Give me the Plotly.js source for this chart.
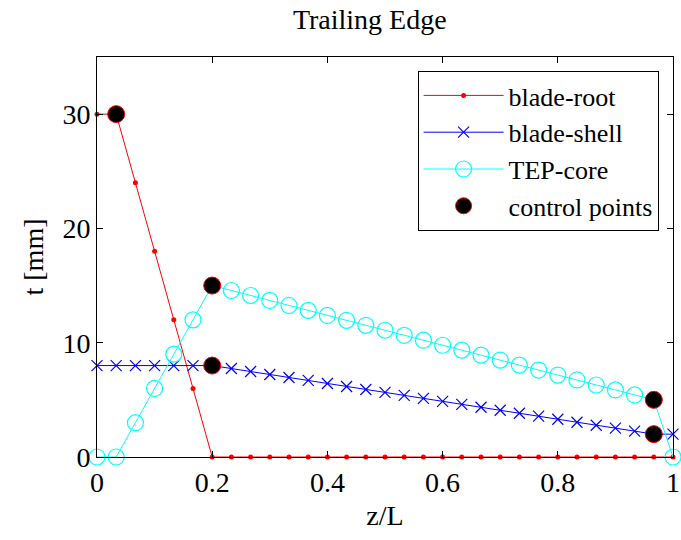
<!DOCTYPE html>
<html>
<head>
<meta charset="utf-8">
<script src="https://cdn.plot.ly/plotly-3.0.1.min.js"></script>
<style>html,body{margin:0;padding:0;background:#fff;}#chart{width:681px;height:540px;}</style>
</head>
<body>
<div id="chart"></div>
<script>
// z/L stations (31 points, spacing 1/30)
const zL = [0, 0.0333, 0.0667, 0.1, 0.1333, 0.1667, 0.2, 0.2333, 0.2667, 0.3, 0.3333, 0.3667, 0.4, 0.4333, 0.4667, 0.5,
            0.5333, 0.5667, 0.6, 0.6333, 0.6667, 0.7, 0.7333, 0.7667, 0.8, 0.8333, 0.8667, 0.9, 0.9333, 0.9667, 1];
const bladeRoot = [30, 30, 24, 18, 12, 6, 0, 0, 0, 0, 0, 0, 0, 0, 0, 0,
                   0, 0, 0, 0, 0, 0, 0, 0, 0, 0, 0, 0, 0, 0, 0];
const bladeShell = [8, 8, 8, 8, 8, 8, 8, 7.74, 7.48, 7.22, 6.96, 6.70, 6.43, 6.17, 5.91, 5.65,
                    5.39, 5.13, 4.87, 4.61, 4.35, 4.09, 3.83, 3.57, 3.30, 3.04, 2.78, 2.52, 2.26, 2.0, 2.0];
const tepCore = [0, 0, 3, 6, 9, 12, 15, 14.57, 14.13, 13.70, 13.26, 12.83, 12.39, 11.96, 11.52, 11.09,
                 10.65, 10.22, 9.78, 9.35, 8.91, 8.48, 8.04, 7.61, 7.17, 6.74, 6.30, 5.87, 5.43, 5.00, 0];
const ctrlX = [0.0333, 0.2, 0.2, 0.9667, 0.9667];
const ctrlY = [30, 15, 8, 5, 2];
const seriesNames = ['blade-root', 'blade-shell', 'TEP-core', 'control points'];

const font = 'Liberation Serif, Times New Roman, serif';
const traces = [
  {x: zL, y: bladeRoot, name: seriesNames[0], mode: 'lines+markers', cliponaxis: false,
   line: {color: '#ff0000', width: 1}, marker: {symbol: 'circle', size: 5, color: '#ff0000'}},
  {x: zL, y: bladeShell, name: seriesNames[1], mode: 'lines+markers', cliponaxis: false,
   line: {color: '#0000ff', width: 1}, marker: {symbol: 'x-thin', size: 11, line: {color: '#0000ff', width: 1.2}}},
  {x: zL, y: tepCore, name: seriesNames[2], mode: 'lines+markers', cliponaxis: false,
   line: {color: '#00ffff', width: 1}, marker: {symbol: 'circle-open', size: 16, color: '#00ffff', line: {color: '#00ffff', width: 1.2}}},
  {x: ctrlX, y: ctrlY, name: seriesNames[3], mode: 'markers', cliponaxis: false,
   marker: {symbol: 'circle', size: 17, color: '#000000', line: {color: '#ff0000', width: 1}}}
];

const layout = {
  width: 681, height: 540,
  margin: {l: 97, r: 8, t: 57, b: 83},
  paper_bgcolor: '#ffffff', plot_bgcolor: '#ffffff',
  font: {family: font, color: '#000000', size: 28},
  title: {text: 'Trailing Edge', font: {family: font, size: 28, color: '#000'}, x: 0.543, xref: 'container', xanchor: 'center', y: 0.965, yref: 'container', yanchor: 'middle'},
  xaxis: {range: [0, 1], dtick: 0.2, tick0: 0, showgrid: false, zeroline: false, ticklabeloverflow: 'allow',
          showline: true, linecolor: '#000', linewidth: 1, mirror: 'ticks', ticks: 'inside', ticklen: 6, tickcolor: '#000',
          tickfont: {family: font, size: 28}, title: {text: 'z/L', font: {family: font, size: 28}, standoff: 8}},
  yaxis: {range: [0, 35], dtick: 10, tick0: 0, showgrid: false, zeroline: false,
          showline: true, linecolor: '#000', linewidth: 1, mirror: 'ticks', ticks: 'inside', ticklen: 6, tickcolor: '#000',
          tickfont: {family: font, size: 28}, title: {text: 't [mm]', font: {family: font, size: 28}, standoff: 10}},
  legend: {x: 0.975, y: 0.965, xanchor: 'right', yanchor: 'top', bgcolor: '#ffffff', bordercolor: '#000', borderwidth: 1,
           font: {family: font, size: 26}, tracegroupgap: 0, itemwidth: 80},
  showlegend: true
};

Plotly.newPlot('chart', traces, layout, {displayModeBar: false, staticPlot: true});
</script>
</body>
</html>
